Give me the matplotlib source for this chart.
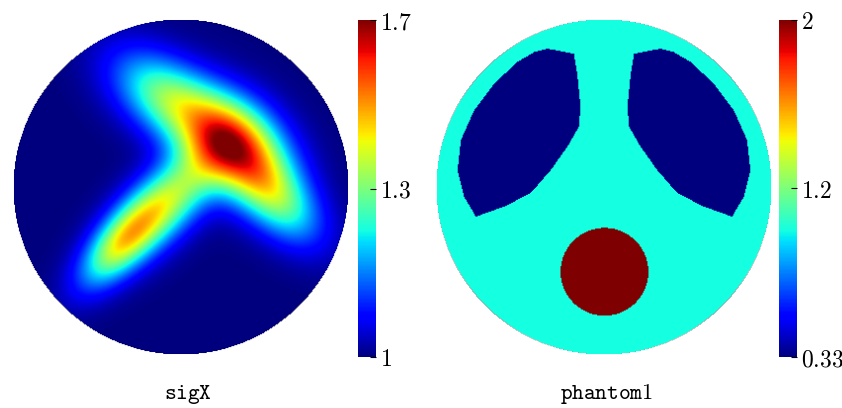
import numpy as np
import matplotlib
matplotlib.use("Agg")
import matplotlib.pyplot as plt
from matplotlib.path import Path

plt.rcParams["mathtext.fontset"] = "cm"

# sigX: background level plus a few elongated bumps (unit-disk coordinates)
sig_base = 1.0
bump_x = [0.32, -0.08, 0.58, -0.10, -0.37]
bump_y = [0.25, 0.53, -0.08, -0.10, -0.35]
bump_amp = [0.55, 0.32, 0.28, 0.38, 0.30]
bump_angle = [-42, -36, -46, 45, 48]
bump_along = [0.25, 0.26, 0.23, 0.30, 0.22]
bump_across = [0.17, 0.15, 0.13, 0.13, 0.10]
sig_range = [1.0, 1.7]
sig_ticks = [1.0, 1.35, 1.7]
sig_ticklabels = ["1", "1.3", "1.7"]

# phantom1: piecewise constant regions
phantom_bg = 0.96
lung_value = 0.33
heart_value = 2.0
# left lung outline (the right lung is its mirror image)
lung_edge_x = [-0.338, -0.180, -0.160, -0.140, -0.150, -0.219, -0.318, -0.438, -0.596,
               -0.765, -0.835, -0.874, -0.854, -0.775, -0.656, -0.517, -0.418]
lung_edge_y = [0.826, 0.796, 0.677, 0.478, 0.359, 0.240, 0.101, -0.037, -0.117,
               -0.177, -0.058, 0.101, 0.280, 0.458, 0.617, 0.746, 0.805]
heart_x = 0.003
heart_y = -0.506
heart_r = 0.262
ph_range = [0.33, 2.0]
ph_ticks = [0.33, 1.165, 2.0]
ph_ticklabels = ["0.33", "1.2", "2"]

n = 340
g = np.linspace(-1, 1, n)
X, Y = np.meshgrid(g, g)
outside = X**2 + Y**2 > 1.0
pts = np.column_stack([X.ravel(), Y.ravel()])

# sigX field
sig = np.full_like(X, sig_base)
for cx, cy, amp, ang, sa, sc in zip(bump_x, bump_y, bump_amp, bump_angle, bump_along, bump_across):
    t = np.deg2rad(ang)
    u = (X - cx) * np.cos(t) + (Y - cy) * np.sin(t)
    v = -(X - cx) * np.sin(t) + (Y - cy) * np.cos(t)
    sig += amp * np.exp(-0.5 * ((u / sa) ** 2 + (v / sc) ** 2))
sig = np.clip(sig, *sig_range)

# phantom field
ph = np.full_like(X, phantom_bg)
for side in [1, -1]:
    poly = Path(np.column_stack([side * np.array(lung_edge_x), lung_edge_y]))
    inside = poly.contains_points(pts).reshape(X.shape)
    ph[inside] = lung_value
heart = (X - heart_x) ** 2 + (Y - heart_y) ** 2 <= heart_r**2
ph[heart] = heart_value

sig = np.ma.masked_where(outside, sig)
ph = np.ma.masked_where(outside, ph)

fig = plt.figure(figsize=(8.42, 4.08), dpi=100)
W, H = 842.0, 408.0

panels = [
    (sig, sig_range, sig_ticks, sig_ticklabels, 12.5, 358, r"$\mathtt{sigX}$", 187.5),
    (ph, ph_range, ph_ticks, ph_ticklabels, 435.5, 779, r"$\mathtt{phantom1}$", 606.5),
]

for field, vr, ticks, tlabels, x0, cx0, label, lx in panels:
    ax = fig.add_axes([x0 / W, (H - 355) / H, 336 / W, 336 / H])
    im = ax.imshow(field, cmap="jet", vmin=vr[0], vmax=vr[1], origin="lower",
                   extent=[-1, 1, -1, 1], interpolation="bilinear")
    ax.set_xlim(-1, 1)
    ax.set_ylim(-1, 1)
    ax.axis("off")

    cax = fig.add_axes([cx0 / W, (H - 357) / H, 17.5 / W, 337 / H])
    cb = fig.colorbar(im, cax=cax)
    cb.outline.set_visible(False)
    cb.set_ticks(ticks)
    cb.set_ticklabels(["$" + s + "$" for s in tlabels])
    cax.tick_params(direction="in", length=4, width=0.8, labelsize=17, pad=3)

    fig.text(lx / W, (H - 399) / H, label, ha="center", va="baseline", fontsize=16)

fig.savefig("out.png", dpi=100)
